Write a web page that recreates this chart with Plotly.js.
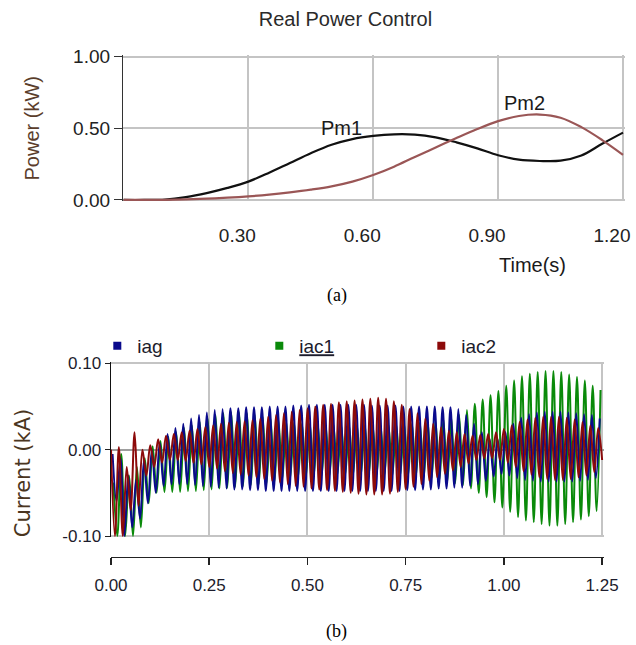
<!DOCTYPE html>
<html>
<head>
<meta charset="utf-8">
<script src="https://cdn.plot.ly/plotly-3.0.1.min.js"></script>
<style>
html,body{margin:0;padding:0;background:#ffffff;}
#chart{width:636px;height:645px;}
</style>
</head>
<body>
<div id="chart"></div>
<script>
// ================= (a) Real Power Control =================
const powerTime = [0.00,0.05,0.10,0.15,0.20,0.25,0.30,0.35,0.40,0.45,0.50,0.55,0.60,0.65,0.70,0.75,0.80,0.85,0.90,0.95,1.00,1.05,1.10,1.15,1.20];
const pm1 = [0.000,0.000,0.003,0.020,0.048,0.084,0.128,0.190,0.258,0.326,0.385,0.425,0.447,0.458,0.456,0.437,0.402,0.360,0.312,0.281,0.272,0.274,0.310,0.392,0.470];
const pm2 = [0.000,0.000,0.001,0.004,0.009,0.016,0.025,0.037,0.053,0.072,0.095,0.128,0.174,0.232,0.300,0.366,0.432,0.495,0.550,0.586,0.596,0.574,0.508,0.418,0.315];
const powerXTicks = [0.30,0.60,0.90,1.20];
const powerXTickLabels = ['0.30','0.60','0.90','1.20'];
const powerYTicks = [0.00,0.50,1.00];
const powerYTickLabels = ['0.00','0.50','1.00'];

// ================= (b) Currents =================
// 50 Hz waveforms: one peak and one trough value per 20 ms cycle
const cycleLength = 0.02;
const iagPeaks = [-0.005,-0.010,-0.030,-0.035,-0.012,0.000,0.008,0.018,0.025,0.030,0.036,0.040,0.043,0.046,0.047,0.048,0.048,0.049,0.049,0.049,0.050,
  0.050,0.050,0.051,0.051,0.052,0.052,0.052,0.052,0.052,0.052,0.052,0.052,0.051,0.051,0.051,0.051,
  0.050,0.050,0.050,0.050,0.050,0.049,0.049,0.047,0.040,0.030,0.020,0.012,0.012,0.020,0.030,0.037,0.041,0.043,0.044,0.044,0.044,0.043,0.042,0.041,0.040,0.036];
const iagTroughs = [-0.060,-0.100,-0.090,-0.080,-0.062,-0.050,-0.042,-0.040,-0.040,-0.040,-0.041,-0.042,-0.043,-0.044,-0.045,-0.046,-0.046,-0.047,-0.047,-0.048,-0.048,
  -0.048,-0.048,-0.048,-0.048,-0.048,-0.048,-0.048,-0.048,-0.048,-0.048,-0.048,-0.048,-0.048,-0.048,-0.048,-0.048,
  -0.047,-0.047,-0.046,-0.046,-0.045,-0.045,-0.044,-0.044,-0.042,-0.040,-0.036,-0.031,-0.028,-0.030,-0.033,-0.035,-0.036,-0.037,-0.037,-0.037,-0.037,-0.037,-0.036,-0.035,-0.033,-0.030];
const iac1Peaks = [-0.038,-0.005,-0.030,-0.020,-0.010,0.004,0.010,0.015,0.020,0.025,0.028,0.032,0.036,0.040,0.042,0.043,0.043,0.042,0.040,0.038,0.036,
  0.034,0.032,0.031,0.030,0.030,0.030,0.029,0.029,0.028,0.028,0.028,0.028,0.028,0.028,0.029,0.029,
  0.030,0.030,0.031,0.032,0.033,0.035,0.037,0.040,0.046,0.053,0.058,0.063,0.068,0.074,0.080,0.085,0.088,0.090,0.091,0.091,0.090,0.087,0.084,0.080,0.074,0.069];
const iac1Troughs = [-0.100,-0.100,-0.100,-0.090,-0.062,-0.050,-0.049,-0.049,-0.049,-0.048,-0.048,-0.047,-0.046,-0.045,-0.044,-0.043,-0.042,-0.041,-0.040,-0.039,-0.037,
  -0.034,-0.033,-0.032,-0.031,-0.030,-0.030,-0.030,-0.029,-0.029,-0.029,-0.029,-0.029,-0.029,-0.029,-0.030,-0.030,
  -0.030,-0.031,-0.032,-0.033,-0.035,-0.037,-0.039,-0.041,-0.045,-0.050,-0.055,-0.061,-0.067,-0.072,-0.078,-0.082,-0.084,-0.086,-0.088,-0.088,-0.086,-0.084,-0.081,-0.077,-0.071,-0.064];
const iac2Peaks = [0.000,0.003,-0.020,0.020,0.000,0.005,0.012,0.016,0.018,0.020,0.022,0.024,0.026,0.028,0.030,0.031,0.032,0.033,0.034,0.036,0.038,
  0.040,0.042,0.044,0.046,0.048,0.050,0.052,0.053,0.055,0.056,0.057,0.058,0.059,0.060,0.059,0.056,
  0.052,0.047,0.042,0.036,0.030,0.026,0.022,0.020,0.018,0.016,0.017,0.018,0.020,0.024,0.028,0.032,0.035,0.037,0.038,0.038,0.038,0.037,0.035,0.032,0.028,0.025];
const iac2Troughs = [-0.100,-0.100,-0.070,-0.065,-0.030,-0.020,-0.015,-0.012,-0.012,-0.013,-0.015,-0.017,-0.020,-0.022,-0.025,-0.027,-0.029,-0.030,-0.032,-0.034,-0.036,
  -0.038,-0.040,-0.042,-0.043,-0.045,-0.046,-0.047,-0.048,-0.049,-0.050,-0.051,-0.052,-0.052,-0.052,-0.051,-0.049,
  -0.046,-0.043,-0.040,-0.036,-0.032,-0.028,-0.024,-0.020,-0.016,-0.012,-0.010,-0.010,-0.012,-0.015,-0.020,-0.025,-0.029,-0.032,-0.034,-0.035,-0.035,-0.034,-0.032,-0.030,-0.026,-0.012];
const currentXTicks = [0.00,0.25,0.50,0.75,1.00,1.25];
const currentXTickLabels = ['0.00','0.25','0.50','0.75','1.00','1.25'];
const currentYTicks = [-0.10,0.00,0.10];
const currentYTickLabels = ['-0.10','0.00','0.10'];

// each cycle: peak then trough half a cycle later
function wave(peaks, troughs, phase) {
  const t = [], y = [];
  for (let k = 0; k < peaks.length; k++) {
    const t0 = k * cycleLength + phase;
    if (t0 <= 1.25) { t.push(t0); y.push(peaks[k]); }
    const t1 = t0 + cycleLength / 2;
    if (t1 <= 1.25) { t.push(t1); y.push(troughs[k]); }
  }
  return {t, y};
}
const wIag = wave(iagPeaks, iagTroughs, 0.004);
const wIac1 = wave(iac1Peaks, iac1Troughs, 0.006);
const wIac2 = wave(iac2Peaks, iac2Troughs, 0.000);

const SANS = 'Liberation Sans, Arial, sans-serif';
const SERIF = 'Liberation Serif, Times New Roman, serif';
const BLUE = '#0a0a8c', GREEN = '#0a8a0a', RED = '#8c0a0a';
const GRID = '#c4c4c4';

const traces = [
  {x: powerTime, y: pm1, type: 'scatter', mode: 'lines', name: 'Pm1', showlegend: false,
   line: {color: '#111111', width: 2.2, shape: 'spline'}, xaxis: 'x', yaxis: 'y'},
  {x: powerTime, y: pm2, type: 'scatter', mode: 'lines', name: 'Pm2', showlegend: false,
   line: {color: '#9a5656', width: 2.2, shape: 'spline'}, xaxis: 'x', yaxis: 'y'},
  {x: wIac1.t, y: wIac1.y, type: 'scatter', mode: 'lines', name: 'iac1', showlegend: false,
   line: {color: GREEN, width: 2, shape: 'spline'}, xaxis: 'x2', yaxis: 'y2'},
  {x: wIag.t, y: wIag.y, type: 'scatter', mode: 'lines', name: 'iag', showlegend: false,
   line: {color: BLUE, width: 2, shape: 'spline'}, xaxis: 'x2', yaxis: 'y2'},
  {x: wIac2.t, y: wIac2.y, type: 'scatter', mode: 'lines', name: 'iac2', showlegend: false,
   line: {color: RED, width: 2, shape: 'spline'}, xaxis: 'x2', yaxis: 'y2'},
  // legend entries (small square keys as in the original)
  {x: [null], y: [null], type: 'scatter', mode: 'markers', name: 'iag', legendgroup: 'iag',
   marker: {symbol: 'square', size: 8, color: BLUE}, xaxis: 'x2', yaxis: 'y2'},
  {x: [null], y: [null], type: 'scatter', mode: 'markers', name: '<u>iac1</u>', legendgroup: 'iac1',
   marker: {symbol: 'square', size: 8, color: GREEN}, xaxis: 'x2', yaxis: 'y2'},
  {x: [null], y: [null], type: 'scatter', mode: 'markers', name: 'iac2', legendgroup: 'iac2',
   marker: {symbol: 'square', size: 8, color: RED}, xaxis: 'x2', yaxis: 'y2'}
];

const layout = {
  width: 636, height: 645,
  margin: {l: 0, r: 0, t: 0, b: 0},
  paper_bgcolor: '#ffffff', plot_bgcolor: '#ffffff',
  title: {text: 'Real Power Control', x: 0.5432, y: 0.9705, xanchor: 'center', yanchor: 'middle',
          font: {family: SANS, size: 20, color: '#2a2a2a'}},
  showlegend: true,
  legend: {orientation: 'h', x: 0.153, xanchor: 'left', y: 0.4636, yanchor: 'middle',
           entrywidth: 117, entrywidthmode: 'pixels', bgcolor: 'rgba(0,0,0,0)',
           font: {family: SANS, size: 19, color: '#1c1c2c'}, traceorder: 'normal'},
  // ranges padded by ~1.5 px so the edge gridlines (plot frame) are drawn
  xaxis: {domain: [0.19403, 0.98192], range: [0, 1.2036], anchor: 'y',
          tickvals: powerXTicks, ticktext: powerXTickLabels, ticks: '',
          ticklabelshift: -11, ticklabelstandoff: 21,
          showgrid: true, gridcolor: GRID, gridwidth: 2, zeroline: false, showline: false,
          tickfont: {family: SANS, size: 19, color: '#222222'}},
  yaxis: {domain: [0.68775, 0.91442], range: [-0.01, 1.01], anchor: 'x',
          tickvals: powerYTicks, ticktext: powerYTickLabels, ticks: 'outside', ticklen: 8, tickcolor: '#333333',
          showgrid: true, gridcolor: GRID, gridwidth: 2, zeroline: false,
          showline: true, linecolor: '#333333', linewidth: 1.5,
          tickfont: {family: SANS, size: 19, color: '#222222'},
          title: {text: 'Power (kW)', standoff: 28, font: {family: SANS, size: 20, color: '#5a3d2b'}}},
  xaxis2: {domain: [0.17453, 0.94953], range: [0, 1.2545], anchor: 'free', position: 0.1369,
           tickvals: currentXTicks, ticktext: currentXTickLabels, ticks: 'outside', ticklen: 7, tickcolor: '#222222', tickwidth: 1.5,
           showgrid: true, gridcolor: GRID, gridwidth: 2, zeroline: false,
           showline: true, linecolor: '#222222', linewidth: 1.5, ticklabelstandoff: 5,
           tickfont: {family: SANS, size: 17, color: '#1c1c2c'}},
  yaxis2: {domain: [0.16667, 0.43907], range: [-0.1017, 0.1017], anchor: 'x2',
           tickvals: currentYTicks, ticktext: currentYTickLabels, ticks: 'outside', ticklen: 5, tickcolor: '#222222',
           showgrid: true, gridcolor: GRID, gridwidth: 2,
           zeroline: true, zerolinecolor: '#9e9e9e', zerolinewidth: 2,
           showline: true, linecolor: '#111111', linewidth: 1.5,
           tickfont: {family: SANS, size: 17, color: '#1c1c2c'},
           title: {text: 'Current (kA)&nbsp;&nbsp;&nbsp;&nbsp;&nbsp;&nbsp;&nbsp;', standoff: 26,
                   font: {family: 'DejaVu Sans, sans-serif', size: 21, color: '#4a3520'}}},
  annotations: [
    {text: 'Pm1', x: 0.525, y: 0.50, xref: 'x', yref: 'y', showarrow: false,
     font: {family: SANS, size: 20, color: '#1a1a1a'}},
    {text: 'Pm2', x: 0.963, y: 0.675, xref: 'x', yref: 'y', showarrow: false,
     font: {family: SANS, size: 20, color: '#1a1a1a'}},
    {text: 'Time(s)', x: 0.8373, y: 0.5891, xref: 'paper', yref: 'paper', xanchor: 'center', yanchor: 'middle',
     showarrow: false, font: {family: SANS, size: 20, color: '#1a1a1a'}},
    {text: '(a)', x: 0.5294, y: 0.5426, xref: 'paper', yref: 'paper', xanchor: 'center', yanchor: 'middle',
     showarrow: false, font: {family: SERIF, size: 18, color: '#000000'}},
    {text: '(b)', x: 0.5294, y: 0.0217, xref: 'paper', yref: 'paper', xanchor: 'center', yanchor: 'middle',
     showarrow: false, font: {family: SERIF, size: 18, color: '#000000'}}
  ]
};

Plotly.newPlot('chart', traces, layout, {displayModeBar: false, staticPlot: true});
</script>
</body>
</html>
